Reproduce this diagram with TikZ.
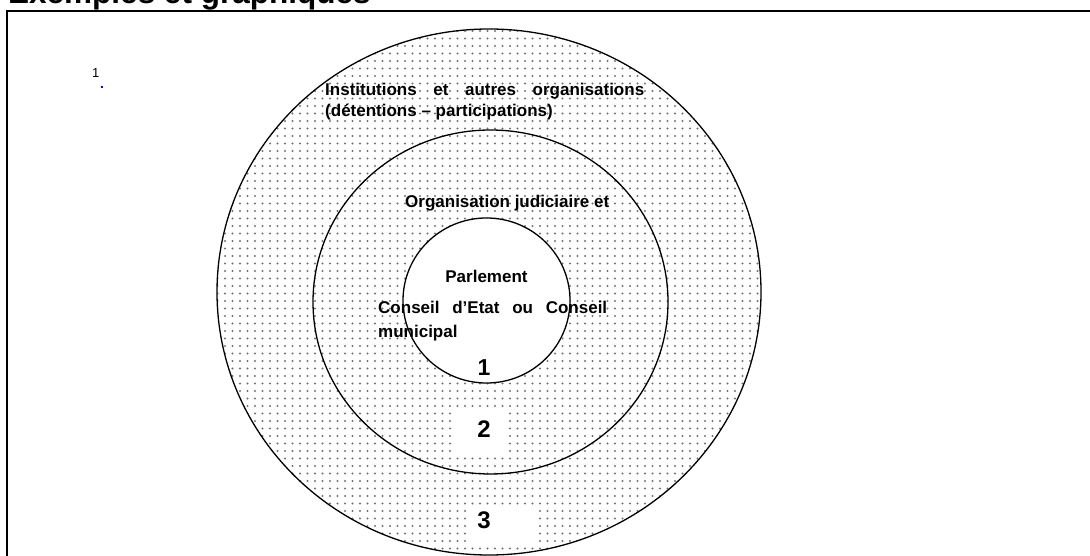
\documentclass[tikz,border=0pt]{standalone}
\usepackage{fontspec}
\setmainfont{Liberation Sans}
\usetikzlibrary{patterns}
\pgfdeclarepatternformonly{sdots}{\pgfqpoint{-2pt}{-2pt}}{\pgfqpoint{2pt}{2pt}}{\pgfqpoint{7.5pt}{7.5pt}}{\pgfpathcircle{\pgfqpoint{0pt}{0pt}}{1.1pt}\pgfusepath{fill}}
\begin{document}
\begin{tikzpicture}[x=1pt,y=-1pt,
  ring/.style={draw=black,line width=1.3pt},
  lbl/.style={inner sep=0pt,font=\fontsize{17}{20}\selectfont\bfseries},
  num/.style={inner sep=0pt,font=\fontsize{24}{28}\selectfont\bfseries},
  blank/.style={fill=white,draw=none}]
\useasboundingbox (0,0) rectangle (1090,556);
\clip (0,0) rectangle (1090,556);
\fill[white] (0,0) rectangle (1090,556);
\node[anchor=base west, inner sep=0pt, font=\fontsize{31.5}{36}\selectfont\bfseries] (title) at (8,4) {Exemples et graphiques};
\draw[line width=1.8pt] (1100,11) -- (6.8,11) -- (6.8,570);
\node[anchor=base west, inner sep=0pt, font=\fontsize{13}{15}\selectfont] (fn) at (92,78) {1};
\fill[blue] (101.3,85.7) rectangle (103.3,87.7);
% rings
\fill[white] (489,292) ellipse [x radius=272, y radius=263];
\fill[pattern=sdots, pattern color=black!55] (489,292) ellipse [x radius=272, y radius=263];
\draw[ring] (489,292) ellipse [x radius=272, y radius=263];
\draw[ring] (490.5,302) ellipse [x radius=177.5, y radius=172];
\draw[ring, fill=white] (486.5,300.5) ellipse [x radius=83.5, y radius=82.5];
% white boxes behind numbers
\fill[blank] (455,412) rectangle (508,456);
\fill[blank] (470,505) rectangle (538,547);
% texts
\node[lbl, anchor=base west] (inst1) at (325,96) {\makebox[319pt][s]{Institutions et autres organisations}};
\node[lbl, anchor=base west] (inst2) at (325,117) {(détentions – participations)};
\node[lbl, anchor=base west] (orgj) at (405,208) {Organisation judiciaire et};
\node[lbl, anchor=base] (parl) at (486.5,283) {Parlement};
\node[lbl, anchor=base west] (cons1) at (378,313) {\makebox[229pt][s]{Conseil d'Etat ou Conseil}};
\node[lbl, anchor=base west] (cons2) at (378,337) {municipal};
\node[num, anchor=base, font=\fontsize{23}{27}\selectfont\bfseries] (n1) at (484,375) {1};
\node[num, anchor=base] (n2) at (484,437) {2};
\node[num, anchor=base] (n3) at (484,528) {3};
\end{tikzpicture}
\end{document}
